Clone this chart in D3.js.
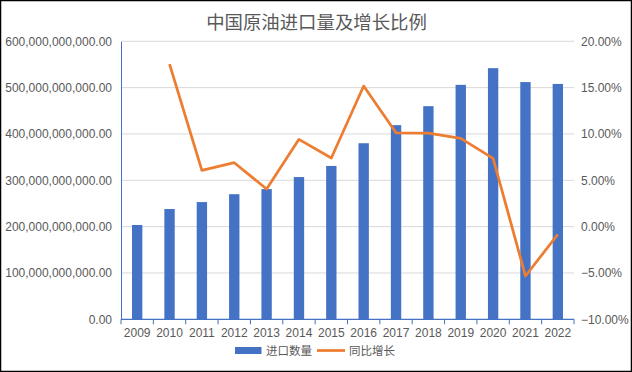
<!DOCTYPE html>
<html>
<head>
<meta charset="utf-8">
<script src="https://cdn.jsdelivr.net/npm/d3@7"></script>
<style>
  body { margin: 0; background: #fff; }
  text { font-family: "Liberation Sans", Arial, "Noto Sans CJK SC", sans-serif; fill: #595959; }
</style>
</head>
<body>
<svg id="chart" width="632" height="372"></svg>
<script>
const TITLE = "中国原油进口量及增长比例"
const years = ["2009","2010","2011","2012","2013","2014","2015","2016","2017","2018","2019","2020","2021","2022"]
// import volume (bars, left axis)
const importVolume = [203.5e9, 238e9, 253e9, 270e9, 281e9, 307e9, 331e9, 380e9, 419e9, 460e9, 506e9, 542e9, 512e9, 508e9]
// year-on-year growth (line, right axis), 2009 has no value
const growthRate = [null, 0.1754, 0.0607, 0.069, 0.0406, 0.0942, 0.074, 0.1517, 0.1013, 0.101, 0.0952, 0.0737, -0.0533, -0.0083]
const leftTicks = [0, 1e11, 2e11, 3e11, 4e11, 5e11, 6e11]
const rightTicks = [-0.10, -0.05, 0, 0.05, 0.10, 0.15, 0.20]
const legendNames = ["进口数量", "同比增长"]

const BAR_COLOR = "#4472C4"
const LINE_COLOR = "#ED7D31"
const GRID_COLOR = "#d9d9d9"

const margin = {left: 121, right: 58, top: 41.3, bottom: 52.7}
const W = 632, H = 372
const svg = d3.select("#chart")

//outer frame
svg.append("rect")
  .attr("x", 0.5).attr("y", 0.5)
  .attr("width", W - 1).attr("height", H - 1)
  .attr("fill", "#fff").attr("stroke", "#000").attr("stroke-width", 1.5)

const x = d3.scaleBand().domain(years)
  .range([margin.left, W - margin.right])
  .paddingInner(0.68).paddingOuter(0.34)

const yLeft = d3.scaleLinear().domain([0, 6e11]).range([H - margin.bottom, margin.top])
const yRight = d3.scaleLinear().domain([-0.10, 0.20]).range([H - margin.bottom, margin.top])

//gridlines
svg.append("g").selectAll("line")
  .data(leftTicks.slice(1))
  .join("line")
  .attr("x1", margin.left).attr("x2", W - margin.right)
  .attr("y1", d => yLeft(d)).attr("y2", d => yLeft(d))
  .attr("stroke", GRID_COLOR).attr("stroke-width", 1)

//bars
svg.append("g").selectAll("rect")
  .data(years)
  .join("rect")
  .attr("x", d => x(d))
  .attr("width", x.bandwidth())
  .attr("y", (d, i) => yLeft(importVolume[i]))
  .attr("height", (d, i) => yLeft(0) - yLeft(importVolume[i]))
  .attr("fill", BAR_COLOR)

//growth line
const line = d3.line()
  .defined(d => d.v != null)
  .x(d => x(d.year) + x.bandwidth() / 2)
  .y(d => yRight(d.v))

svg.append("path")
  .datum(years.map((year, i) => ({year: year, v: growthRate[i]})))
  .attr("d", line)
  .attr("fill", "none")
  .attr("stroke", LINE_COLOR)
  .attr("stroke-width", 2.75)
  .attr("stroke-linejoin", "round")

//left axis
const leftFmt = d3.format(",.2f")
const leftAxis = svg.append("g")
  .attr("transform", `translate(${margin.left},0)`)
  .call(d3.axisLeft(yLeft).tickValues(leftTicks).tickFormat(leftFmt).tickSize(0).tickPadding(9))
leftAxis.select(".domain").attr("stroke", BAR_COLOR)
leftAxis.selectAll("text").style("font-size", "12px").attr("fill", "#595959")

//right axis
const rightAxis = svg.append("g")
  .attr("transform", `translate(${W - margin.right},0)`)
  .call(d3.axisRight(yRight).tickValues(rightTicks).tickFormat(d3.format(".2%")).tickSize(0).tickPadding(7))
rightAxis.select(".domain").remove()
rightAxis.selectAll("text").style("font-size", "12px").attr("fill", "#595959")

//bottom axis with ticks between categories
const bottom = svg.append("g")
  .attr("transform", `translate(0,${yLeft(0)})`)
bottom.append("line")
  .attr("x1", margin.left).attr("x2", W - margin.right)
  .attr("stroke", BAR_COLOR).attr("stroke-width", 1.2)
const step = x.step()
bottom.selectAll("line.tick")
  .data(d3.range(years.length + 1))
  .join("line")
  .attr("class", "tick")
  .attr("x1", i => margin.left + i * step).attr("x2", i => margin.left + i * step)
  .attr("y1", 0).attr("y2", 5)
  .attr("stroke", BAR_COLOR).attr("stroke-width", 1)
bottom.selectAll("text")
  .data(years)
  .join("text")
  .attr("x", d => x(d) + x.bandwidth() / 2)
  .attr("y", 18)
  .attr("text-anchor", "middle")
  .style("font-size", "12px")
  .text(d => d)

//title
svg.append("text")
  .attr("x", 316.5).attr("y", 29)
  .attr("text-anchor", "middle")
  .style("font-size", "18.4px")
  .style("font-family", "'Noto Sans CJK SC', sans-serif")
  .text(TITLE)

//legend
const legend = svg.append("g").attr("transform", "translate(0,350.5)")
legend.append("rect")
  .attr("x", 235).attr("y", -3.5).attr("width", 26.5).attr("height", 7)
  .attr("fill", BAR_COLOR)
legend.append("text")
  .attr("x", 266).attr("y", 4.5)
  .style("font-size", "11.5px")
  .style("font-family", "'Noto Sans CJK SC', sans-serif")
  .text(legendNames[0])
legend.append("line")
  .attr("x1", 317).attr("x2", 345).attr("y1", 0).attr("y2", 0)
  .attr("stroke", LINE_COLOR).attr("stroke-width", 2.75)
legend.append("text")
  .attr("x", 349).attr("y", 4.5)
  .style("font-size", "11.5px")
  .style("font-family", "'Noto Sans CJK SC', sans-serif")
  .text(legendNames[1])
</script>
</body>
</html>
